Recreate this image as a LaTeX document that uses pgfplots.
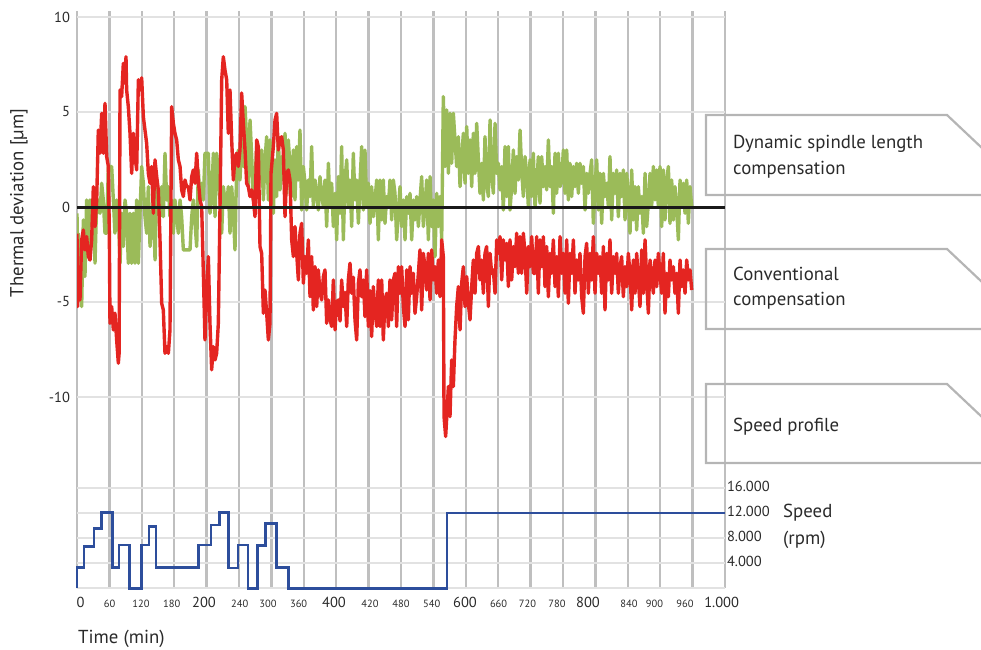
\documentclass[border=0pt]{standalone}
\usepackage{fontspec}
\setmainfont{PT Sans}
\usepackage{pgfplots}
\pgfplotsset{compat=1.18}

\definecolor{devred}{HTML}{E42521}
\definecolor{devgreen}{HTML}{9BBB59}
\definecolor{speedblue}{HTML}{2D4E9C}
\definecolor{gridlt}{HTML}{D8D8D8}
\definecolor{griddk}{HTML}{BFBFBF}
\definecolor{gridh}{HTML}{E2E2E2}
\definecolor{boxgray}{HTML}{B5B5B5}
\definecolor{txt}{HTML}{2A2A2A}

\pgfplotsset{
  panel/.style={
    scale only axis, width=648pt, xmin=0, xmax=1000,
    axis line style={draw=none},
    major tick length=0pt, minor tick length=0pt,
    xtick={0,200,...,1000},
    minor xtick={50,100,150,250,300,350,450,500,550,650,700,750,850,900,950},
    xticklabels={}, scaled y ticks=false,
    xmajorgrids, xminorgrids, ymajorgrids,
    x grid style={griddk, line width=2.4pt},
    minor grid style={gridlt, line width=2.2pt},
    y grid style={gridh, line width=1.8pt},
    tick label style={text=txt},
  }
}

\begin{document}
\begin{tikzpicture}
\path[use as bounding box] (0pt,0pt) rectangle (981pt,-649pt);

% thermal deviation
\begin{axis}[panel, at={(77pt,-488pt)}, anchor=south west, height=476.7pt,
  ymin=-14.79, ymax=10.3,
  ytick={-10,-5,0,5,10}, yticklabels={-10,-5,0,5,10},
  yticklabel style={font=\fontsize{14.5}{15}\selectfont, anchor=east, xshift=-3.5pt},
  line join=round]
\addplot[devgreen, line width=3.4pt] coordinates {
(0,-0.33) (1.2,-3.66) (2.1,-1.4) (4.6,-3.49) (7.2,-5.24) (9.8,-0.68) (12.3,-3.66) (14.9,0.37)
(17.5,-2.08) (20.1,0.37) (22.6,-0.5) (25.2,0.37) (27.8,-2.96) (30.4,0.37) (32.9,0.37) (35.5,-0.33)
(38.1,1.25) (40.6,0.37) (43.2,-1.38) (45.8,-1.38) (48.4,2.13) (50.9,2.13) (53.5,2.13) (56.1,0.37)
(58.6,-1.38) (61.2,0.37) (63.8,-0.33) (66.4,-2.96) (68.9,-0.33) (71.5,-2.08) (74.1,0.37) (76.6,-0.33)
(79.2,-2.96) (81.8,-0.33) (84.4,-2.96) (86.9,-0.33) (89.5,-2.96) (92.1,0.37) (94.7,-2.96) (97.2,-0.33)
(99.8,2.13) (102.4,1.25) (104.9,-0.51) (107.5,-1.38) (110.1,1.07) (112.7,-2.08) (115.2,-1.03) (117.8,0.37)
(120.4,-2.79) (123,1.07) (125.5,0.37) (128.1,-0.51) (130.7,1.07) (133.2,-0.51) (135.8,2.83) (138.4,0.37)
(141,1.07) (143.5,-0.51) (146.1,0.37) (148.7,-1.38) (151.2,0.37) (153.8,-0.51) (156.4,-1.38) (159,0.37)
(161.5,-0.51) (164.1,-2.26) (169.2,-2.26) (174.4,-2.26) (177,-0.51) (179.5,0.37) (184.7,-2.08) (187.2,1.95)
(189.8,0.37) (192.4,1.25) (195,0.37) (197.5,2.83) (202.7,2.83) (205.2,-0.33) (207.8,0.37) (210.4,2.83)
(213,-0.51) (215.5,2.83) (218.1,1.77) (220.7,0.37) (223.3,-1.38) (225.8,1.07) (228.4,0.37) (231,0.02)
(233.5,1.07) (236.1,-1.38) (238.7,1.07) (241.3,-0.33) (243.8,-2.26) (246.4,2.13) (249,3.0) (251.5,1.42)
(254.1,3.53) (256.7,2.13) (259.3,5.28) (261.8,3.53) (264.4,1.07) (267,4.58) (269.6,2.65) (272.1,0.37)
(274.7,1.42) (277.3,3.18) (279.8,0.9) (282.4,2.13) (285,3.0) (287.6,0.37) (290.1,2.48) (292.7,3.7)
(295.3,0.37) (297.8,3.53) (300.4,1.07) (303,-0.33) (305.6,2.48) (308.1,0.55) (310.7,3.7) (313.3,0.9)
(315.8,2.65) (318.4,1.42) (321,3.88) (323.6,0.72) (326.1,3.53) (328.7,2.13) (331.3,0.55) (333.9,3.0)
(336.4,0.37) (339,3.18) (341.6,1.42) (344.1,4.05) (346.7,-0.16) (349.3,2.13) (351.9,1.25) (354.4,-0.16)
(357,1.42) (359.6,0.55) (362.1,3.18) (364.7,0.02) (367.3,1.42) (369.9,0.72) (372.4,-0.16) (375,1.6)
(377.6,0.55) (380.2,0.02) (382.7,1.42) (385.3,-1.03) (387.9,2.3) (390.4,0.02) (393,1.25) (395.6,-1.03)
(398.2,0.72) (400.7,-1.73) (403.3,1.6) (405.9,-0.33) (408.4,3.18) (411,-1.73) (413.6,1.42) (416.2,2.48)
(418.7,0.02) (421.3,1.42) (423.9,-1.03) (426.4,2.83) (429,0.37) (431.6,1.42) (434.2,-0.86) (436.7,1.25)
(439.3,3.18) (441.9,-0.16) (444.4,3.0) (447,0.02) (449.6,1.25) (452.2,-0.86) (454.7,1.07) (457.3,-0.51)
(459.9,0.37) (462.5,1.42) (465,-1.73) (467.6,1.42) (470.2,-0.68) (472.7,1.42) (475.3,-0.86) (477.9,0.55)
(480.5,0.02) (483,1.42) (485.6,-0.68) (488.2,1.42) (490.7,0.72) (493.3,-1.73) (495.9,-0.16) (498.5,1.07)
(501,-1.03) (503.6,0.37) (506.2,-1.73) (508.8,0.55) (511.3,-0.33) (513.9,0.72) (516.5,-1.73) (519,0.37)
(521.6,-0.68) (524.2,0.55) (526.8,-1.03) (529.3,0.37) (531.9,1.6) (534.5,-1.03) (537,0.02) (539.6,1.42)
(542.2,-1.73) (544.8,1.6) (547.3,-1.03) (549.9,0.37) (552.5,-2.61) (555.1,0.72) (557.6,-1.03) (560.2,0.55)
(562.8,-1.73) (565.3,5.81) (567.9,2.13) (570.5,5.11) (573.1,1.77) (575.6,4.93) (578.2,2.3) (580.8,4.93)
(583.3,3.53) (585.9,2.13) (588.5,3.7) (591.1,1.07) (593.6,2.48) (596.2,3.88) (598.8,1.25) (601.4,4.23)
(603.9,1.77) (606.5,3.53) (609.1,1.07) (611.6,3.88) (614.2,1.77) (616.8,4.4) (619.4,2.48) (621.9,0.72)
(624.5,2.3) (627.1,0.37) (629.6,3.7) (632.2,1.25) (634.8,0.55) (637.4,4.58) (639.9,1.77) (642.5,0.72)
(645.1,4.4) (647.7,1.77) (650.2,2.3) (652.8,0.9) (655.4,2.13) (657.9,-0.16) (660.5,3.18) (663.1,0.55)
(665.7,3.18) (668.2,-0.16) (670.8,1.07) (673.4,3.0) (675.9,0.72) (678.5,2.65) (681.1,1.42) (683.7,4.05)
(686.2,1.95) (688.8,0.55) (691.4,2.65) (694,1.77) (696.5,0.02) (699.1,2.48) (701.7,0.55) (704.2,2.83)
(706.8,0.02) (709.4,1.07) (711.9,2.65) (714.5,0.2) (717.1,2.65) (719.7,1.07) (722.2,2.13) (724.8,0.9)
(727.4,3.53) (729.9,1.07) (732.5,2.13) (735.1,-0.33) (737.7,2.83) (740.2,0.72) (742.8,2.83) (745.4,1.07)
(748,1.42) (750.5,3.0) (753.1,0.72) (755.7,3.0) (758.2,0.37) (760.8,2.3) (763.4,0.55) (766,2.13)
(768.5,1.07) (771.1,2.3) (773.7,0.72) (776.2,2.3) (778.8,1.25) (781.4,2.13) (784,-0.16) (786.5,1.77)
(789.1,0.72) (791.7,1.77) (794.2,2.48) (796.8,-0.86) (799.4,1.07) (802,2.48) (804.5,-0.16) (807.1,1.77)
(809.7,-0.86) (812.3,1.77) (814.8,0.55) (817.4,1.25) (820,0.02) (822.5,2.65) (825.1,-0.68) (827.7,1.77)
(830.3,0.72) (832.8,1.95) (835.4,-0.51) (838,1.77) (840.5,0.55) (843.1,1.95) (845.7,-0.68) (848.3,1.77)
(850.8,0.55) (853.4,-1.38) (856,1.95) (858.5,-0.68) (861.1,1.07) (863.7,-1.21) (866.3,1.07) (868.8,-0.33)
(871.4,0.55) (874,-1.38) (876.6,1.77) (879.1,-1.03) (881.7,0.2) (884.3,1.77) (886.8,0.02) (889.4,2.13)
(892,0.37) (894.6,1.95) (897.1,0.02) (899.7,2.13) (902.3,-1.03) (904.8,1.95) (907.4,-0.68) (910,1.42)
(912.6,2.13) (915.1,-0.86) (917.7,1.42) (920.3,-0.68) (922.8,1.07) (925.4,0.02) (928,-1.73) (930.6,1.42)
(933.1,0.02) (935.7,1.25) (938.3,-0.33) (940.9,1.42) (943.4,-0.86) (946,1.07) (948.6,0.02)
};
\addplot[devred, line width=3.4pt] coordinates {
(0,-1.4) (1,-5.24) (2.1,-3.84) (4.6,-4.89) (7.2,-1.73) (9.8,-1.21) (12.3,-2.26) (14.9,-1.56)
(17.5,-2.61) (20.1,-2.79) (22.6,-1.73) (25.2,1.07) (27.8,-1.03) (30.4,0.37) (32.9,4.05) (35.5,2.83)
(38.1,4.93) (40.6,2.83) (43.2,5.46) (45.8,2.65) (48.4,2.13) (49.9,-1.38) (50.9,-6.12) (53.5,-5.24)
(56.1,-6.47) (58.6,-5.59) (61.2,-7.0) (63.8,-8.22) (65,-7.7) (66.4,6.16) (68.9,5.81) (71.5,7.56)
(74.1,6.5) (75.6,7.91) (76.6,6.16) (79.2,5.28) (81.8,3.88) (84.4,1.77) (86.9,3.88) (89.5,2.65)
(92.1,1.95) (94.7,6.7) (97.2,6.16) (99.8,6.8) (102.4,4.75) (104.9,4.05) (107.5,3.35) (110.1,1.77)
(112.7,1.25) (115.2,2.13) (117.8,-0.33) (120.4,2.48) (123,1.6) (125.5,0.9) (128.1,-1.73) (130.7,-5.07)
(133.2,-5.42) (135.8,-7.7) (138.4,-7.35) (141,-7.7) (143.5,-6.47) (146.1,5.28) (148.7,4.4) (151.2,3.88)
(153.8,3.53) (156.4,2.48) (159,2.13) (161.5,0.9) (164.1,0.55) (166.7,1.42) (169.2,1.07) (171.8,1.07)
(174.4,0.37) (177,1.6) (179.5,1.95) (182.1,1.25) (184.7,2.83) (187.2,1.42) (189.8,0.37) (192.4,0.02)
(195,-3.49) (197.5,-7.0) (200.1,-4.37) (202.7,-2.61) (205.2,-6.12) (207.8,-8.57) (210.4,-7.35) (213,-8.05)
(215.5,-7.7) (218.1,-6.12) (220.7,0.02) (223.3,6.7) (225.8,7.91) (228.4,7.2) (231,6.7) (233.5,3.88)
(236.1,6.16) (238.7,3.53) (241.3,1.42) (243.8,2.65) (246.4,2.83) (249,2.13) (251.5,3.0) (254.1,6.0)
(256.7,4.4) (259.3,3.0) (261.8,1.25) (264.4,1.07) (267,0.55) (269.6,0.9) (272.1,0.37) (274.7,-0.51)
(277.3,3.53) (279.8,3.18) (282.4,-2.08) (285,-2.44) (287.6,-5.59) (290.1,-4.37) (292.7,-5.59) (295.3,-7.0)
(297.8,-6.12) (299.4,1.77) (303,3.18) (305.6,4.58) (308.1,4.93) (310.7,3.0) (313.3,3.53) (315.8,3.7)
(318.4,3.0) (321,-0.51) (323.6,1.77) (326.1,1.95) (328.7,1.42) (331.3,-1.73) (333.9,-2.61) (336.4,-1.03)
(339,-2.44) (341.6,-3.84) (344.1,-1.38) (346.7,-0.86) (349.3,-4.01) (351.9,-2.61) (354.4,-3.49) (357,-1.73)
(359.6,-4.72) (362.1,-2.61) (364.7,-5.42) (367.3,-3.14) (369.9,-5.24) (372.4,-3.31) (375,-4.5) (377.6,-4.89)
(380.2,-3.66) (382.7,-3.31) (385.3,-6.12) (387.9,-4.89) (390.4,-5.9) (393,-6.29) (395.6,-3.84) (398.2,-6.47)
(400.7,-5.0) (403.3,-4.89) (405.9,-6.0) (408.4,-3.84) (411,-5.24) (413.6,-4.5) (416.2,-6.29) (418.7,-3.84)
(421.3,-2.96) (423.9,-4.54) (426.4,-3.7) (429,-5.94) (431.6,-7.0) (434.2,-4.01) (436.7,-3.31) (439.3,-4.72)
(441.9,-3.84) (444.4,-5.77) (447,-3.31) (449.6,-6.29) (452.2,-4.4) (454.7,-6.82) (457.3,-4.19) (459.9,-5.5)
(462.5,-6.29) (465,-3.84) (467.6,-6.29) (470.2,-3.84) (472.7,-7.0) (475.3,-4.89) (477.9,-4.54) (480.5,-6.29)
(483,-3.84) (485.6,-5.94) (488.2,-3.84) (490.7,-3.49) (493.3,-6.29) (495.9,-3.14) (498.5,-4.54) (501,-3.14)
(503.6,-5.24) (506.2,-6.29) (508.8,-3.31) (511.3,-5.94) (513.9,-3.14) (516.5,-4.54) (519,-3.49) (521.6,-5.6)
(524.2,-4.72) (526.8,-3.49) (529.3,-2.26) (531.9,-5.42) (534.5,-2.44) (537,-3.14) (539.6,-4.37) (542.2,-2.44)
(544.8,-4.89) (547.3,-2.26) (549.9,-3.84) (552.5,-3.14) (555.1,-4.54) (557.6,-2.79) (560.2,-4.72) (562.8,-1.73)
(565.3,-2.61) (566.4,-11.03) (568.9,-12.08) (571.5,-10.5) (573.1,-9.45) (575.6,-11.03) (578.2,-8.05) (580.8,-9.45)
(583.3,-7.0) (585.9,-5.24) (588.5,-4.19) (591.1,-6.47) (593.6,-4.01) (596.2,-3.14) (598.8,-5.24) (601.4,-3.66)
(603.9,-5.07) (606.5,-5.94) (609.1,-4.19) (611.6,-2.79) (614.2,-4.54) (616.8,-2.44) (619.4,-2.08) (621.9,-3.84)
(624.5,-2.79) (627.1,-4.54) (629.6,-2.44) (632.2,-2.08) (634.8,-5.24) (637.4,-2.44) (639.9,-3.5) (642.5,-3.31)
(645.1,-4.54) (647.7,-1.73) (650.2,-2.44) (652.8,-1.56) (655.4,-3.84) (657.9,-1.73) (660.5,-2.79) (663.1,-1.91)
(665.7,-4.19) (668.2,-1.73) (670.8,-3.84) (673.4,-2.08) (675.9,-3.14) (678.5,-1.38) (681.1,-3.49) (683.7,-1.56)
(686.2,-3.49) (688.8,-1.38) (691.4,-2.44) (694,-4.54) (696.5,-2.08) (699.1,-3.14) (701.7,-1.56) (704.2,-3.49)
(706.8,-3.49) (709.4,-1.56) (711.9,-4.54) (714.5,-1.73) (717.1,-3.14) (719.7,-1.56) (722.2,-4.19) (724.8,-2.08)
(727.4,-4.72) (729.9,-2.44) (732.5,-3.49) (735.1,-1.73) (737.7,-4.19) (740.2,-2.61) (742.8,-4.72) (745.4,-1.56)
(748,-3.49) (750.5,-2.44) (753.1,-4.54) (755.7,-1.73) (758.2,-5.07) (760.8,-2.44) (763.4,-3.49) (766,-1.73)
(768.5,-4.54) (771.1,-2.79) (773.7,-3.84) (776.2,-2.44) (778.8,-4.72) (781.4,-5.59) (784,-2.61) (786.5,-1.91)
(789.1,-4.54) (791.7,-2.44) (794.2,-3.84) (796.8,-1.56) (799.4,-4.54) (802,-2.44) (804.5,-3.49) (807.1,-2.61)
(809.7,-4.54) (812.3,-2.08) (814.8,-5.42) (817.4,-2.44) (820,-3.84) (822.5,-1.73) (825.1,-4.54) (827.7,-2.61)
(830.3,-3.49) (832.8,-2.44) (835.4,-4.54) (838,-3.14) (840.5,-2.61) (843.1,-4.72) (845.7,-3.14) (848.3,-4.19)
(850.8,-2.44) (853.4,-3.49) (856,-5.42) (858.5,-2.79) (861.1,-4.54) (863.7,-2.44) (866.3,-3.84) (868.8,-5.24)
(871.4,-2.26) (874,-4.54) (876.6,-1.73) (879.1,-3.84) (881.7,-5.59) (884.3,-2.79) (886.8,-3.49) (889.4,-4.54)
(892,-2.79) (894.6,-4.19) (897.1,-2.44) (899.7,-3.49) (902.3,-4.54) (904.8,-2.44) (907.4,-5.59) (910,-3.49)
(912.6,-4.72) (915.1,-2.79) (917.7,-3.84) (920.3,-3.14) (922.8,-4.54) (925.4,-3.49) (928,-5.59) (930.6,-2.79)
(933.1,-4.19) (935.7,-3.31) (938.3,-4.54) (940.9,-2.79) (943.4,-3.84) (946,-3.31) (948.6,-4.37)
};
\addplot[black!90, line width=3pt] coordinates {(0,0) (1000,0)};
\end{axis}

% speed profile
\begin{axis}[panel, at={(77pt,-588.3pt)}, anchor=south west, height=100.3pt,
  ymin=0, ymax=16000, clip=false,
  ytick={0,4000,8000,12000,16000}, yticklabels={,4.000,8.000,12.000,16.000},
  yticklabel pos=right,
  yticklabel style={font=\fontsize{14.5}{15}\selectfont, anchor=west, xshift=-1.5pt, yshift=2pt}]
\addplot[speedblue, line width=2.8pt] coordinates {
(0,0) (0,3300) (10.8,3300) (10.8,6700) (26.2,6700) (26.2,9600) (38,9600) (38,12100) (55,12100)
(55,3300) (64.8,3300) (64.8,6900) (80.8,6900) (80.8,0) (99.8,0) (99.8,6900) (111,6900) (111,9800)
(121.9,9800) (121.9,3350) (187.2,3350) (187.2,6900) (206.8,6900) (206.8,10100) (219.6,10100)
(219.6,12100) (234,12100) (234,3250) (248.5,3250) (248.5,6900) (263.9,6900) (263.9,0) (278.3,0)
(278.3,6850) (291.2,6850) (291.2,10400) (308.2,10400) (308.2,3300) (326.7,3300) (326.7,0) (571,0)
(571,12000) (1000,12000)
};
\end{axis}

% time labels
\begin{axis}[scale only axis, width=648pt, height=100.3pt, at={(77pt,-588.3pt)}, anchor=south west,
  xmin=0, xmax=1000, ymin=0, ymax=1, axis line style={draw=none},
  major tick length=0pt, ytick=\empty,
  xtick={50.2,98.8,146.1,251,294.8,342,452,500,547.4,650.6,695.2,740.7,851.9,891.2,938.3},
  xticklabels={60,120,180,240,300,360,420,480,540,660,720,780,840,900,960},
  xticklabel style={font=\fontsize{10.5}{11}\selectfont, anchor=base, yshift=-19pt, text=txt},
  extra x ticks={5.5,196,396.6,598.8,788.6,994.8},
  extra x tick labels={0,200,400,600,800,1.000},
  extra x tick style={xticklabel style={font=\fontsize{14.5}{15}\selectfont}}]
\end{axis}

\node[rotate=90, text=txt, font=\fontsize{18.8}{19}\selectfont] at (19pt,-203pt) {Thermal deviation [µm]};
\node[anchor=base west, inner sep=0pt, text=txt, font=\fontsize{18.8}{19}\selectfont] at (78pt,-643pt) {Time (min)};
\node[anchor=base west, inner sep=0pt, text=txt, font=\fontsize{18.8}{19}\selectfont] at (783pt,-517.7pt) {Speed};
\node[anchor=base west, inner sep=0pt, text=txt, font=\fontsize{18.8}{19}\selectfont] at (783pt,-544pt) {(rpm)};

\foreach \t/\b in {115/195, 249/329, 384/463} {
  \draw[boxgray, line width=2.2pt] (1000pt,-\t pt-50pt) -- (947pt,-\t pt) -- (706pt,-\t pt)
    -- (706pt,-\b pt) -- (1000pt,-\b pt);
}
\begin{scope}[every node/.style={anchor=base west, inner sep=0pt, text=txt, font=\fontsize{18.8}{19}\selectfont}]
\node at (733pt,-148pt) {Dynamic spindle length};
\node at (733pt,-174pt) {compensation};
\node at (733pt,-280pt) {Conventional};
\node at (733pt,-305.7pt) {compensation};
\node at (733pt,-431.7pt) {Speed profile};
\end{scope}
\end{tikzpicture}
\end{document}
